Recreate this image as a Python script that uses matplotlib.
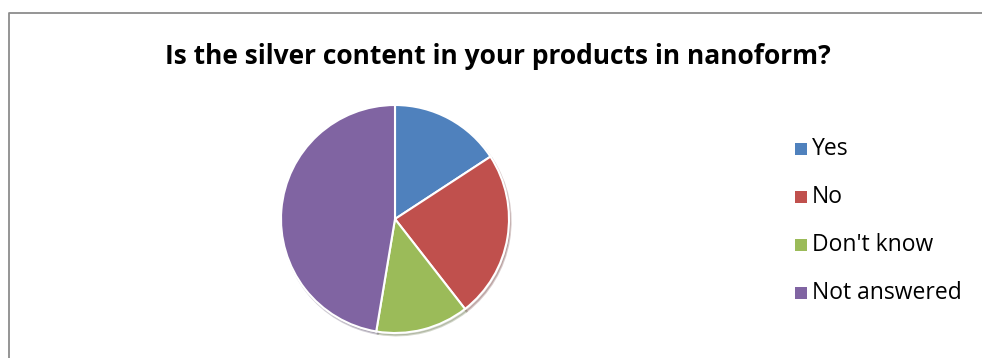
import matplotlib.pyplot as plt
from matplotlib.patches import Rectangle
from matplotlib.lines import Line2D

# Survey answers (counts)
labels = ['Yes', 'No', "Don't know", 'Not answered']
counts = [6, 9, 5, 18]
colors = ['#4F81BD', '#C0504D', '#9BBB59', '#8064A2']
title = 'Is the silver content in your products in nanoform?'

W, H = 982, 358
plt.rcParams['font.family'] = ['Open Sans', 'DejaVu Sans']

fig = plt.figure(figsize=(W / 100, H / 100), dpi=100)

# Chart frame: only left and top edges show in the crop
fx, fy = 8.5 / W, 1 - 12.5 / H
fig.lines.append(Line2D([fx, fx, 1.0], [0.0, fy, fy], transform=fig.transFigure,
                        color='#8c8c8c', linewidth=1.3))

fig.text(498 / W, 1 - 56 / H, title, ha='center', va='center',
         fontsize=19, fontweight='bold', color='black')

# Pie axes: centre (395, 219), radius 114 px
r = 114
ax = fig.add_axes([(395 - r) / W, (H - 219 - r) / H, 2 * r / W, 2 * r / H])
ax.pie(counts, colors=colors, startangle=90, counterclock=False,
       radius=1.0, wedgeprops={'edgecolor': 'white', 'linewidth': 1.5},
       shadow={'ox': 0.01, 'oy': -0.015, 'shade': 0.5, 'alpha': 0.25})
ax.set_xlim(-1, 1)
ax.set_ylim(-1, 1)
ax.set_aspect('equal')
ax.axis('off')

# Legend drawn by hand
y0, step = 149, 48
for i, (lab, col) in enumerate(zip(labels, colors)):
    y = y0 + i * step
    fig.patches.append(Rectangle((795 / W, 1 - (y + 6) / H), 12 / W, 12 / H,
                                 transform=fig.transFigure, facecolor=col,
                                 edgecolor='none'))
    fig.text(812 / W, 1 - y / H, lab, ha='left', va='center', fontsize=16.5)

fig.savefig('out.png', dpi=100)
plt.close(fig)
